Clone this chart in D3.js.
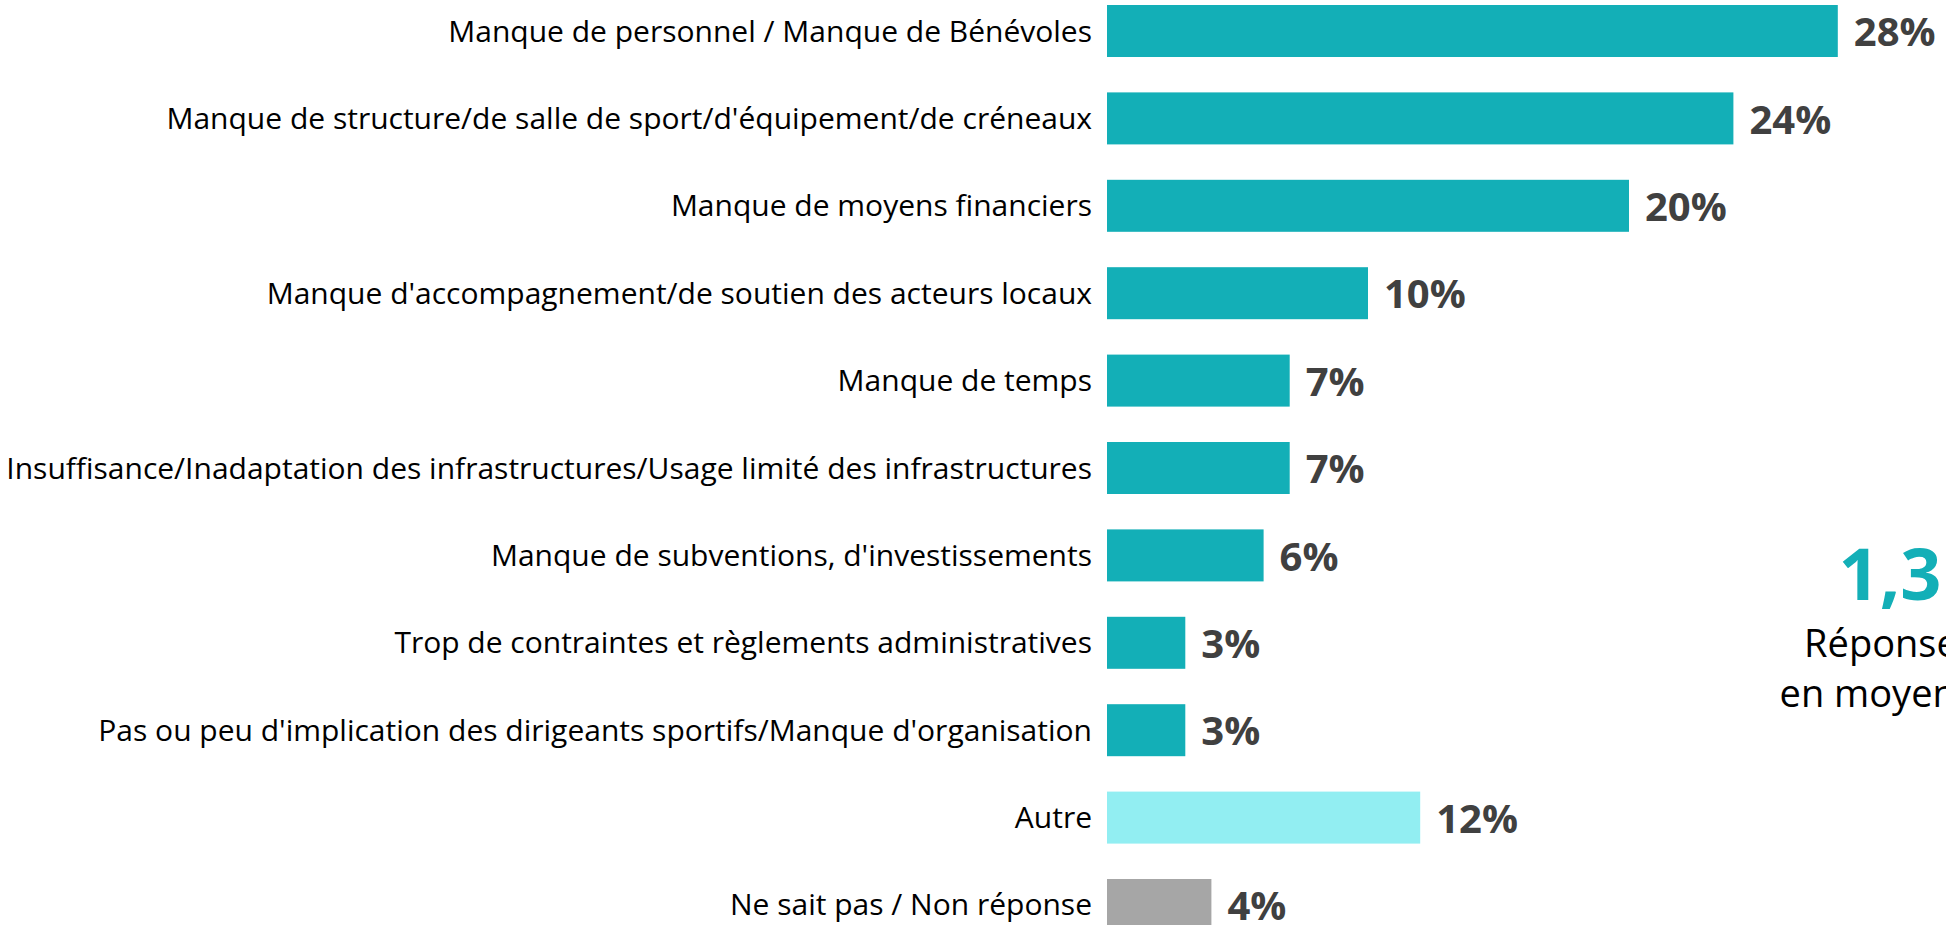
<!DOCTYPE html>
<html>
<head>
<meta charset="utf-8">
<script src="https://cdn.jsdelivr.net/npm/d3@7"></script>
<style>
  html, body { margin: 0; padding: 0; background: #ffffff; }
  svg { display: block; }
</style>
</head>
<body>
<svg id="chart" width="1946" height="925"></svg>
<script>
// Obstacles cited, share of answers (%)
const categories = [
  "Manque de personnel / Manque de Bénévoles",
  "Manque de structure/de salle de sport/d'équipement/de créneaux",
  "Manque de moyens financiers",
  "Manque d'accompagnement/de soutien des acteurs locaux",
  "Manque de temps",
  "Insuffisance/Inadaptation des infrastructures/Usage limité des infrastructures",
  "Manque de subventions, d'investissements",
  "Trop de contraintes et règlements administratives",
  "Pas ou peu d'implication des dirigeants sportifs/Manque d'organisation",
  "Autre",
  "Ne sait pas / Non réponse"
];
const values = [28, 24, 20, 10, 7, 7, 6, 3, 3, 12, 4];
const barKinds = ["main", "main", "main", "main", "main", "main", "main", "main", "main", "other", "none"];

// Average number of answers per respondent
const averageValue = "1,3";
const averageLines = ["Réponses", "en moyenne"];

const colors = { main: "#13AFB7", other: "#92EEF2", none: "#A6A6A6" };

const svg = d3.select("#chart");
const font = "'Open Sans', 'Noto Sans', sans-serif";

const x0 = 1107;
const x = d3.scaleLinear().domain([0, 1]).range([x0, x0 + 26.1]);
const y = d3.scaleBand()
  .domain(categories)
  .range([5, 931])
  .paddingInner(0.405)
  .paddingOuter(0);

const rows = svg.append("g")
  .selectAll("g")
  .data(categories.map((c, i) => ({ c, v: values[i], k: barKinds[i] })))
  .join("g");

rows.append("rect")
  .attr("x", x(0))
  .attr("y", d => y(d.c))
  .attr("width", d => x(d.v) - x(0))
  .attr("height", y.bandwidth())
  .attr("fill", d => colors[d.k]);

rows.append("text")
  .attr("x", x(0) - 15)
  .attr("y", d => y(d.c) + y.bandwidth() / 2)
  .attr("dy", "0.35em")
  .attr("text-anchor", "end")
  .attr("font-family", font)
  .attr("font-size", 30)
  .attr("fill", "#000")
  .text(d => d.c);

rows.append("text")
  .attr("x", d => x(d.v) + 16)
  .attr("y", d => y(d.c) + y.bandwidth() / 2)
  .attr("dy", "0.38em")
  .attr("font-family", font)
  .attr("font-weight", 700)
  .attr("font-size", 40)
  .attr("fill", "#404040")
  .text(d => d.v + "%");

// Average answers annotation
const note = svg.append("g").attr("text-anchor", "middle").attr("font-family", font);
note.append("text")
  .attr("x", 1890).attr("y", 600)
  .attr("font-size", 72).attr("font-weight", 700)
  .attr("fill", "#13AFB7")
  .text(averageValue);
note.selectAll("text.line")
  .data(averageLines)
  .join("text")
  .attr("class", "line")
  .attr("x", 1890)
  .attr("y", (d, i) => 657 + i * 50)
  .attr("font-size", 38)
  .attr("fill", "#000")
  .text(d => d);
</script>
</body>
</html>
